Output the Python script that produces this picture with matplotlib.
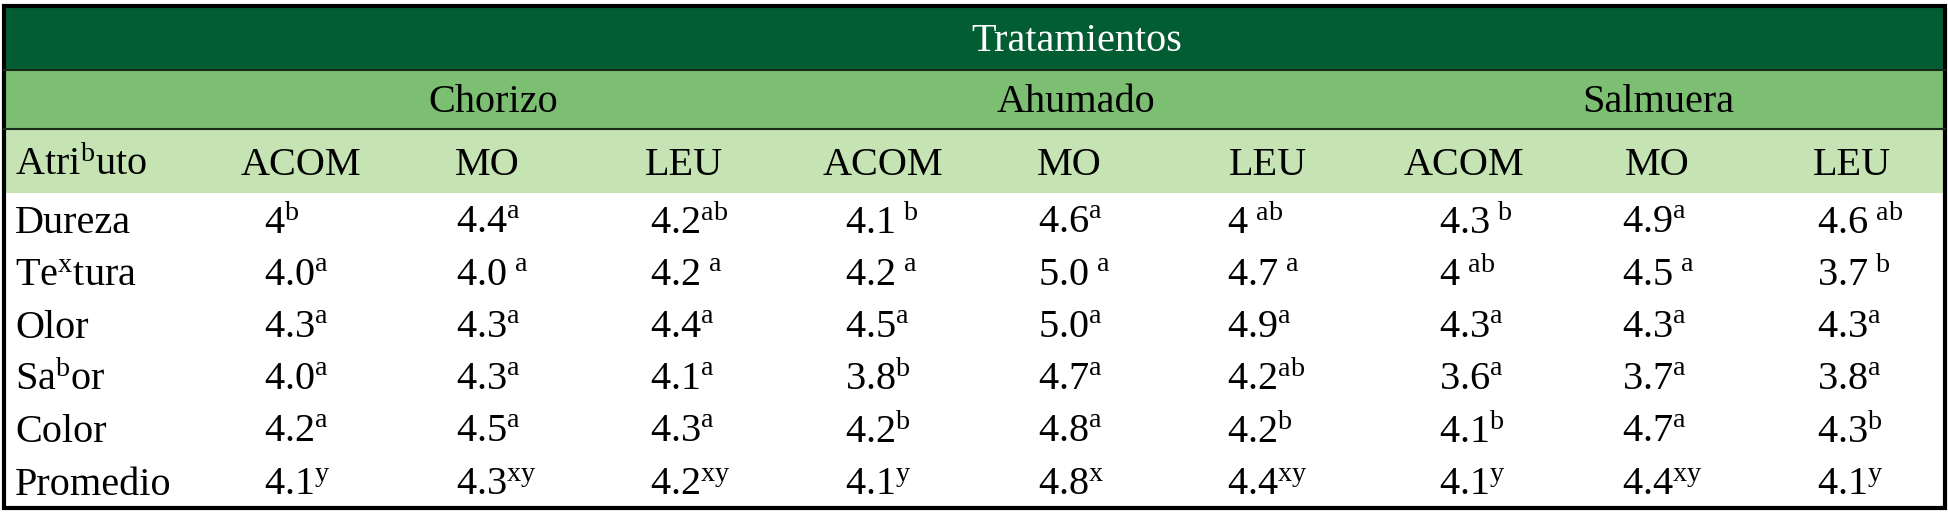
import matplotlib
matplotlib.use("Agg")
import matplotlib.pyplot as plt
from matplotlib.patches import Rectangle

plt.rcParams['mathtext.fontset'] = 'custom'
plt.rcParams['mathtext.rm'] = 'Liberation Serif'
plt.rcParams['mathtext.it'] = 'Liberation Serif'
plt.rcParams['font.family'] = ['Liberation Serif', 'DejaVu Serif']

title = "Tratamientos"
groups = ["Chorizo", "Ahumado", "Salmuera"]
subcols = ["ACOM", "MO", "LEU"] * 3
row_labels = ["Dureza", "Te$^{x}$tura", "Olor", "Sa$^{b}$or", "Color", "Promedio"]
header_label = "Atri$^{b}$uto"
values = [
    ["4", "4.4", "4.2", "4.1", "4.6", "4", "4.3", "4.9", "4.6"],
    ["4.0", "4.0", "4.2", "4.2", "5.0", "4.7", "4", "4.5", "3.7"],
    ["4.3", "4.3", "4.4", "4.5", "5.0", "4.9", "4.3", "4.3", "4.3"],
    ["4.0", "4.3", "4.1", "3.8", "4.7", "4.2", "3.6", "3.7", "3.8"],
    ["4.2", "4.5", "4.3", "4.2", "4.8", "4.2", "4.1", "4.7", "4.3"],
    ["4.1", "4.3", "4.2", "4.1", "4.8", "4.4", "4.1", "4.4", "4.1"],
]
letters = [
    ["b", "a", "ab", " b", "a", " ab", " b", "a", " ab"],
    ["a", " a", " a", " a", " a", " a", " ab", " a", " b"],
    ["a", "a", "a", "a", "a", "a", "a", "a", "a"],
    ["a", "a", "a", "b", "a", "ab", "a", "a", "a"],
    ["a", "a", "a", "b", "a", "b", "b", "a", "b"],
    ["y", "xy", "xy", "y", "x", "xy", "y", "xy", "y"],
]

W, H = 1568, 422
fig = plt.figure(figsize=(19.49, 5.25), dpi=100)
ax = fig.add_axes([0, 0, 1, 1])
ax.set_xlim(0, W); ax.set_ylim(H, 0); ax.axis('off')

x0, x1 = 3, 1565
ax.add_patch(Rectangle((x0, 5), x1 - x0, 51, color='#025E32', lw=0))
ax.add_patch(Rectangle((x0, 56), x1 - x0, 48, color='#7DBF72', lw=0))
ax.add_patch(Rectangle((x0, 104), x1 - x0, 51, color='#C5E3B3', lw=0))
for y in (56, 104):
    ax.plot([x0, x1], [y, y], color='#1a2a1a', lw=1.5)
ax.add_patch(Rectangle((x0, 5), x1 - x0, 403, fill=False, ec='black', lw=3))

fs = 29
ax.text(866, 33, title, color='white', fontsize=fs, ha='center', va='center')
for g, xc in zip(groups, [397, 866, 1334]):
    ax.text(xc, 82, g, fontsize=fs, ha='center', va='center')
ax.text(12, 133, header_label, fontsize=fs, ha='left', va='center')
centers = [242, 392, 550, 710, 860, 1020, 1178, 1333, 1490]
for c, xc in zip(subcols, centers):
    ax.text(xc, 133, c, fontsize=fs, ha='center', va='center')

starts = [212, 367, 523, 680, 835, 987, 1158, 1305, 1462]
row_h = 42
for i, lab in enumerate(row_labels):
    yc = 180 + i * row_h
    ax.text(12, yc, lab, fontsize=fs, ha='left', va='center')
    for j, xs in enumerate(starts):
        lt = letters[i][j]
        sep = "\u2009" if lt.startswith(" ") else ""
        ax.text(xs, yc, values[i][j] + sep + "$^{\\mathrm{" + lt.strip() + "}}$",
                fontsize=fs, ha='left', va='center')

fig.savefig("out.png", dpi=100, facecolor='white')
